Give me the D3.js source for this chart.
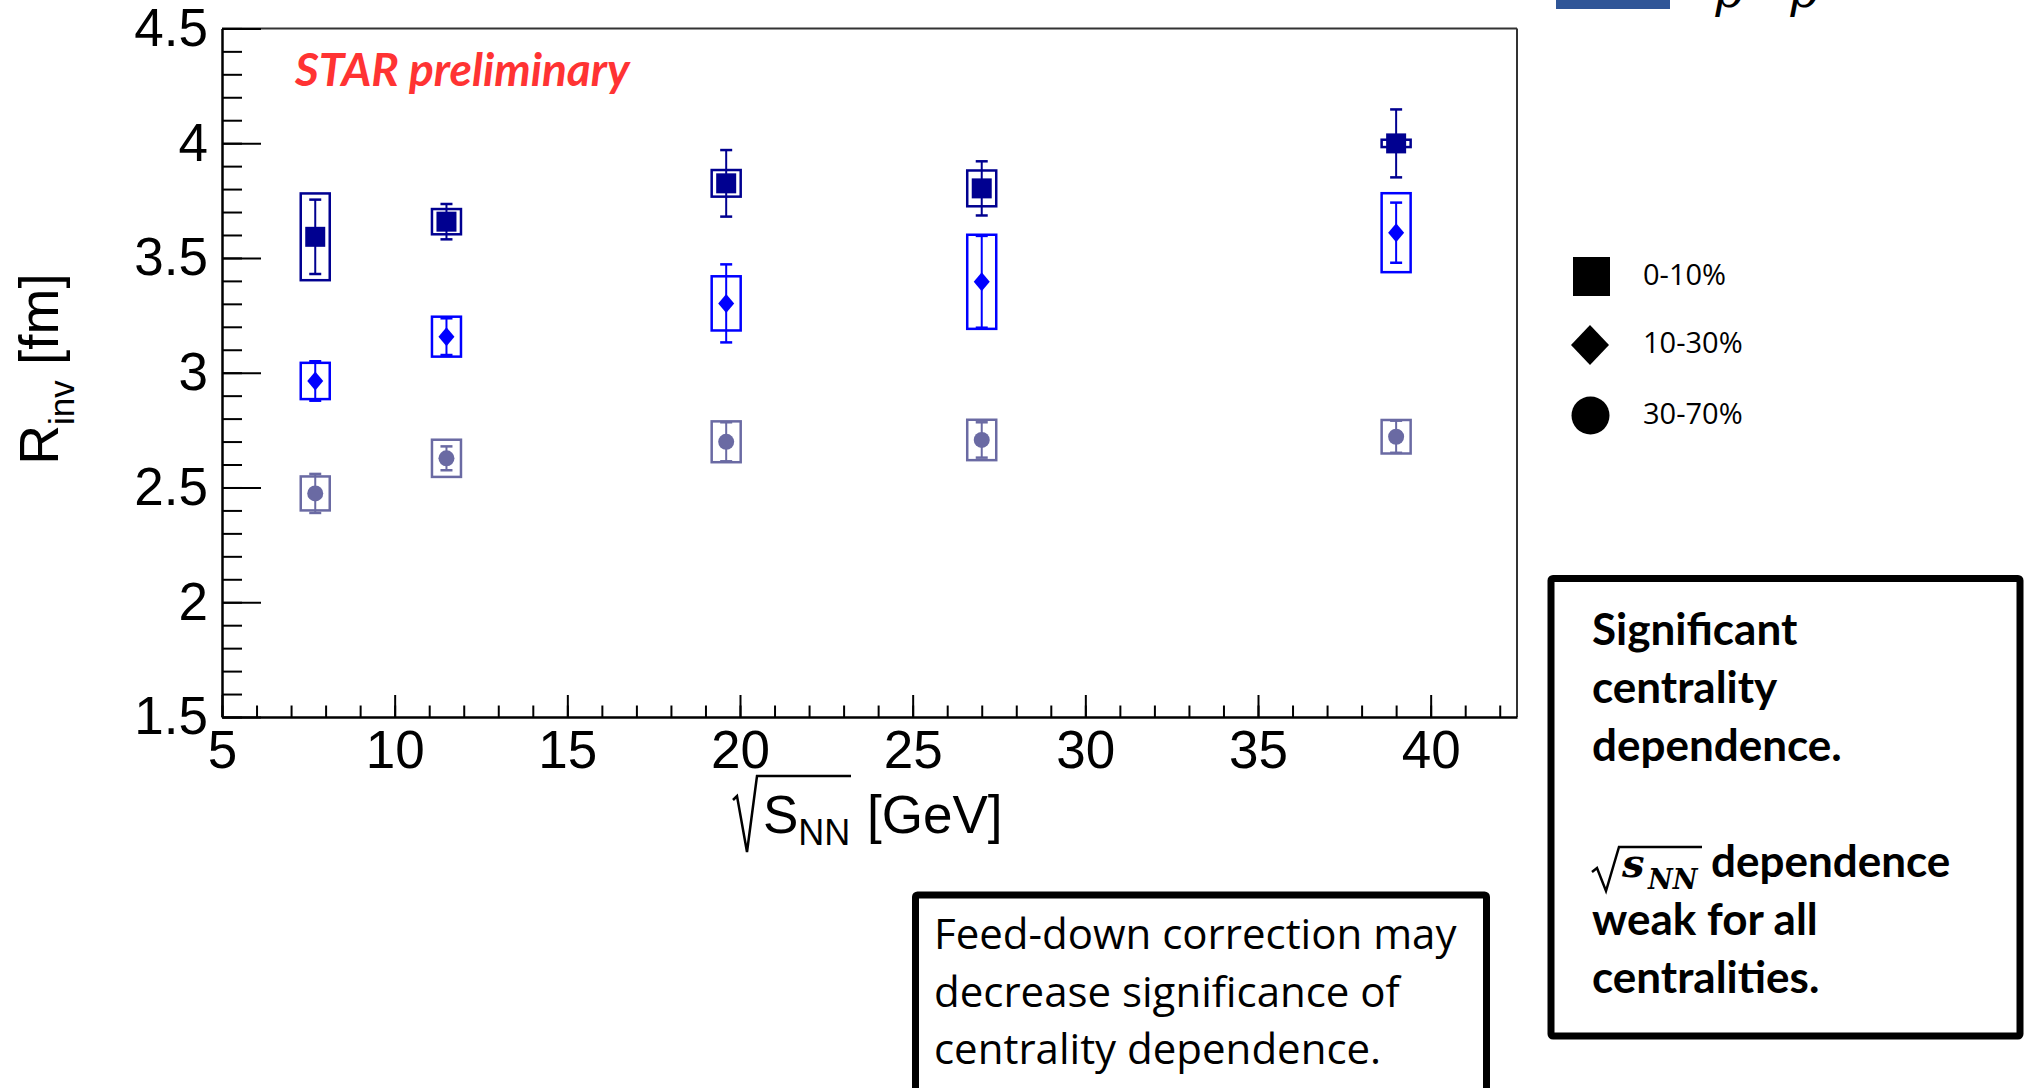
<!DOCTYPE html>
<html>
<head>
<meta charset="utf-8">
<script src="https://cdn.jsdelivr.net/npm/d3@7"></script>
<style>
  body { margin: 0; background: #fff; }
  svg { display: block; }
  .axis text { font-family: "Liberation Sans", Arial, sans-serif; font-size: 53px; fill: #000; }
  .axis path, .axis line { stroke: #000; }
</style>
</head>
<body>
<svg id="chart" width="2026" height="1088"></svg>
<script>
// Beam energies (x) and the three centrality classes.
var energies = [7.7, 11.5, 19.6, 27, 39];
var centralities = ['0-10%', '10-30%', '30-70%'];

// R_inv values with statistical and systematic errors.
var rinv_0_10 = [3.592, 3.658, 3.825, 3.803, 3.999];
var stat_0_10 = [0.162, 0.077, 0.145, 0.118, 0.148];
var sys_0_10 = [0.189, 0.055, 0.058, 0.078, 0.016];

var rinv_10_30 = [2.964, 3.157, 3.302, 3.396, 3.610];
var stat_10_30 = [0.086, 0.080, 0.170, 0.200, 0.131];
var sys_10_30 = [0.079, 0.087, 0.118, 0.205, 0.172];

var rinv_30_70 = [2.474, 2.627, 2.699, 2.707, 2.721];
var stat_30_70 = [0.085, 0.052, 0.085, 0.077, 0.070];
var sys_30_70 = [0.074, 0.081, 0.089, 0.088, 0.073];

// Axis ticks.
var xMajorTicks = [5, 10, 15, 20, 25, 30, 35, 40];
var xMinorTicks = d3.range(5, 43, 1);
var yMajorTicks = [1.5, 2, 2.5, 3, 3.5, 4, 4.5];
var yMinorTicks = d3.range(15, 46, 1).map(function(d) { return d / 10; });

var svg = d3.select('#chart');

var x = d3.scaleLinear().domain([5, 42.5]).range([222, 1517]);
var y = d3.scaleLinear().domain([1.5, 4.5]).range([717, 28.4]);

// Frame: top and right sides are plain lines.
svg.append('line')
  .attr('x1', x.range()[0]).attr('x2', x.range()[1])
  .attr('y1', y.range()[1]).attr('y2', y.range()[1])
  .attr('stroke', '#333').attr('stroke-width', 2);
svg.append('line')
  .attr('x1', x.range()[1]).attr('x2', x.range()[1])
  .attr('y1', y.range()[1]).attr('y2', y.range()[0])
  .attr('stroke', '#333').attr('stroke-width', 2);

// Minor ticks first, then the major axes on top.
svg.append('g')
  .attr('class', 'axis')
  .attr('transform', 'translate(0,' + y.range()[0] + ')')
  .call(d3.axisBottom(x).tickValues(xMinorTicks).tickSize(-11.5).tickFormat(''))
  .call(function(g) { g.select('.domain').remove(); })
  .selectAll('line').attr('stroke-width', 2);

svg.append('g')
  .attr('class', 'axis')
  .attr('transform', 'translate(' + x.range()[0] + ',0)')
  .call(d3.axisLeft(y).tickValues(yMinorTicks).tickSize(-20).tickFormat(''))
  .call(function(g) { g.select('.domain').remove(); })
  .selectAll('line').attr('stroke-width', 2);

var xAxis = svg.append('g')
  .attr('class', 'axis')
  .attr('transform', 'translate(0,' + y.range()[0] + ')')
  .call(d3.axisBottom(x).tickValues(xMajorTicks).tickSize(-22).tickSizeOuter(0).tickPadding(13)
    .tickFormat(function(d) { return String(d); }));
xAxis.select('.domain').attr('stroke-width', 2.5);
xAxis.selectAll('line').attr('stroke-width', 2);

var yAxis = svg.append('g')
  .attr('class', 'axis')
  .attr('transform', 'translate(' + x.range()[0] + ',0)')
  .call(d3.axisLeft(y).tickValues(yMajorTicks).tickSize(-39).tickSizeOuter(0).tickPadding(14)
    .tickFormat(function(d) { return String(d); }));
yAxis.select('.domain').attr('stroke-width', 2.5);
yAxis.selectAll('line').attr('stroke-width', 2);

// Y title: R_inv [fm]
var yTitle = svg.append('text')
  .attr('transform', 'translate(58,369) rotate(-90)')
  .attr('text-anchor', 'middle')
  .style('font-family', '"Liberation Sans", Arial, sans-serif')
  .style('font-size', '55px');
yTitle.append('tspan').text('R');
yTitle.append('tspan').attr('dy', 16).style('font-size', '35px').text('inv');
yTitle.append('tspan').attr('dy', -16).text(' [fm]');

// X title: sqrt(S_NN) [GeV]
svg.append('path')
  .attr('d', 'M733,800 L737,796 L747,852 L757,776 H851')
  .attr('fill', 'none').attr('stroke', '#000').attr('stroke-width', 2.5);
var xTitle = svg.append('text')
  .attr('x', 763).attr('y', 833)
  .style('font-family', '"Liberation Sans", Arial, sans-serif')
  .style('font-size', '53px');
xTitle.append('tspan').text('S');
xTitle.append('tspan').attr('dy', 12).style('font-size', '36px').text('NN');
xTitle.append('tspan').attr('dy', -12).attr('dx', 2).text(' [GeV]');

// STAR preliminary
svg.append('text')
  .attr('x', 295).attr('y', 86)
  .style('font-family', 'Lato, "Open Sans", sans-serif')
  .style('font-weight', 'bold').style('font-style', 'italic')
  .style('font-size', '46px')
  .attr('fill', '#ff3333')
  .text('STAR preliminary');

// Data series
var series = [
  { name: centralities[0], values: rinv_0_10, stat: stat_0_10, sys: sys_0_10, color: '#000090', shape: 'square' },
  { name: centralities[1], values: rinv_10_30, stat: stat_10_30, sys: sys_10_30, color: '#0000ff', shape: 'diamond' },
  { name: centralities[2], values: rinv_30_70, stat: stat_30_70, sys: sys_30_70, color: '#6a6aa3', shape: 'circle' }
];

var boxHalf = 0.42;   // systematic box half-width in GeV
var capHalf = 6;      // error bar cap half-width in px

series.forEach(function(s) {
  var pts = energies.map(function(e, i) {
    return { e: e, v: s.values[i], stat: s.stat[i], sys: s.sys[i] };
  });
  var g = svg.append('g');

  g.selectAll('rect.sys').data(pts).enter().append('rect')
    .attr('class', 'sys')
    .attr('x', function(d) { return x(d.e - boxHalf); })
    .attr('width', function(d) { return x(d.e + boxHalf) - x(d.e - boxHalf); })
    .attr('y', function(d) { return y(d.v + d.sys); })
    .attr('height', function(d) { return y(d.v - d.sys) - y(d.v + d.sys); })
    .attr('fill', 'none').attr('stroke', s.color).attr('stroke-width', 2.5);

  g.selectAll('line.stat').data(pts).enter().append('line')
    .attr('class', 'stat')
    .attr('x1', function(d) { return x(d.e); }).attr('x2', function(d) { return x(d.e); })
    .attr('y1', function(d) { return y(d.v + d.stat); })
    .attr('y2', function(d) { return y(d.v - d.stat); })
    .attr('stroke', s.color).attr('stroke-width', 2);

  [1, -1].forEach(function(sign) {
    g.selectAll('line.cap' + sign).data(pts).enter().append('line')
      .attr('x1', function(d) { return x(d.e) - capHalf; })
      .attr('x2', function(d) { return x(d.e) + capHalf; })
      .attr('y1', function(d) { return y(d.v + sign * d.stat); })
      .attr('y2', function(d) { return y(d.v + sign * d.stat); })
      .attr('stroke', s.color).attr('stroke-width', 2.5);
  });

  var marks = g.selectAll('.mark').data(pts).enter();
  if (s.shape === 'square') {
    marks.append('rect')
      .attr('x', function(d) { return x(d.e) - 10; })
      .attr('y', function(d) { return y(d.v) - 10; })
      .attr('width', 20).attr('height', 20)
      .attr('fill', s.color);
  } else if (s.shape === 'diamond') {
    marks.append('path')
      .attr('d', 'M0,-9.5 L8,0 L0,9.5 L-8,0Z')
      .attr('transform', function(d) { return 'translate(' + x(d.e) + ',' + y(d.v) + ')'; })
      .attr('fill', s.color);
  } else {
    marks.append('circle')
      .attr('cx', function(d) { return x(d.e); })
      .attr('cy', function(d) { return y(d.v); })
      .attr('r', 8)
      .attr('fill', s.color);
  }
});

// Legend (black symbols)
var legendY = [276.5, 345, 415.5];
var legend = svg.append('g');
legend.append('rect').attr('x', 1573).attr('y', legendY[0] - 19.5).attr('width', 37).attr('height', 39).attr('fill', '#000');
legend.append('path').attr('d', 'M0,-20 L19,0 L0,20 L-19,0Z')
  .attr('transform', 'translate(1590,' + legendY[1] + ')').attr('fill', '#000');
legend.append('circle').attr('cx', 1590.5).attr('cy', legendY[2]).attr('r', 19).attr('fill', '#000');
legend.selectAll('text').data(centralities).enter().append('text')
  .attr('x', 1643)
  .attr('y', function(d, i) { return legendY[i] + 8; })
  .style('font-family', '"Open Sans", sans-serif')
  .style('font-size', '29px')
  .text(function(d) { return d; });

// Cut-off header item at the top right
svg.append('rect').attr('x', 1556).attr('y', 0).attr('width', 114).attr('height', 9).attr('fill', '#2f5597');
svg.append('text').attr('x', 1713).attr('y', 7)
  .style('font-family', '"DejaVu Serif", serif').style('font-style', 'italic').style('font-size', '48px')
  .text('p');
svg.append('text').attr('x', 1788).attr('y', 7)
  .style('font-family', '"DejaVu Serif", serif').style('font-style', 'italic').style('font-size', '48px')
  .text('p');

// Right note box
svg.append('rect')
  .attr('x', 1551).attr('y', 578.5).attr('width', 469).attr('height', 457.5)
  .attr('fill', 'none').attr('stroke', '#000').attr('stroke-width', 7).attr('rx', 2);
var boldLines = [
  { t: 'Significant', y: 645 },
  { t: 'centrality', y: 703 },
  { t: 'dependence.', y: 761 },
  { t: 'dependence', y: 877, x: 1711 },
  { t: 'weak for all', y: 935 },
  { t: 'centralities.', y: 993 }
];
svg.append('g').selectAll('text').data(boldLines).enter().append('text')
  .attr('x', function(d) { return d.x || 1592; })
  .attr('y', function(d) { return d.y; })
  .style('font-family', 'Lato, "Open Sans", sans-serif')
  .style('font-weight', 'bold')
  .style('font-size', '44px')
  .text(function(d) { return d.t; });
svg.append('path')
  .attr('d', 'M1592,872 L1597,868 L1606,891 L1619,847 H1702')
  .attr('fill', 'none').attr('stroke', '#000').attr('stroke-width', 2.5);
svg.append('text').attr('x', 1622).attr('y', 877)
  .style('font-family', '"DejaVu Serif", serif').style('font-style', 'italic').style('font-weight', 'bold')
  .style('font-size', '40px')
  .text('s');
svg.append('text').attr('x', 1648).attr('y', 889)
  .style('font-family', '"DejaVu Serif", serif').style('font-style', 'italic').style('font-weight', 'bold')
  .style('font-size', '27px')
  .text('NN');

// Bottom note box
svg.append('rect')
  .attr('x', 915.5).attr('y', 895).attr('width', 571).attr('height', 220)
  .attr('fill', 'none').attr('stroke', '#000').attr('stroke-width', 7).attr('rx', 2);
var noteLines = ['Feed-down correction may', 'decrease significance of', 'centrality dependence.'];
svg.append('g').selectAll('text').data(noteLines).enter().append('text')
  .attr('x', 934)
  .attr('y', function(d, i) { return 949 + i * 57.5; })
  .style('font-family', '"Open Sans", sans-serif')
  .style('font-size', '42px')
  .text(function(d) { return d; });
</script>
</body>
</html>
